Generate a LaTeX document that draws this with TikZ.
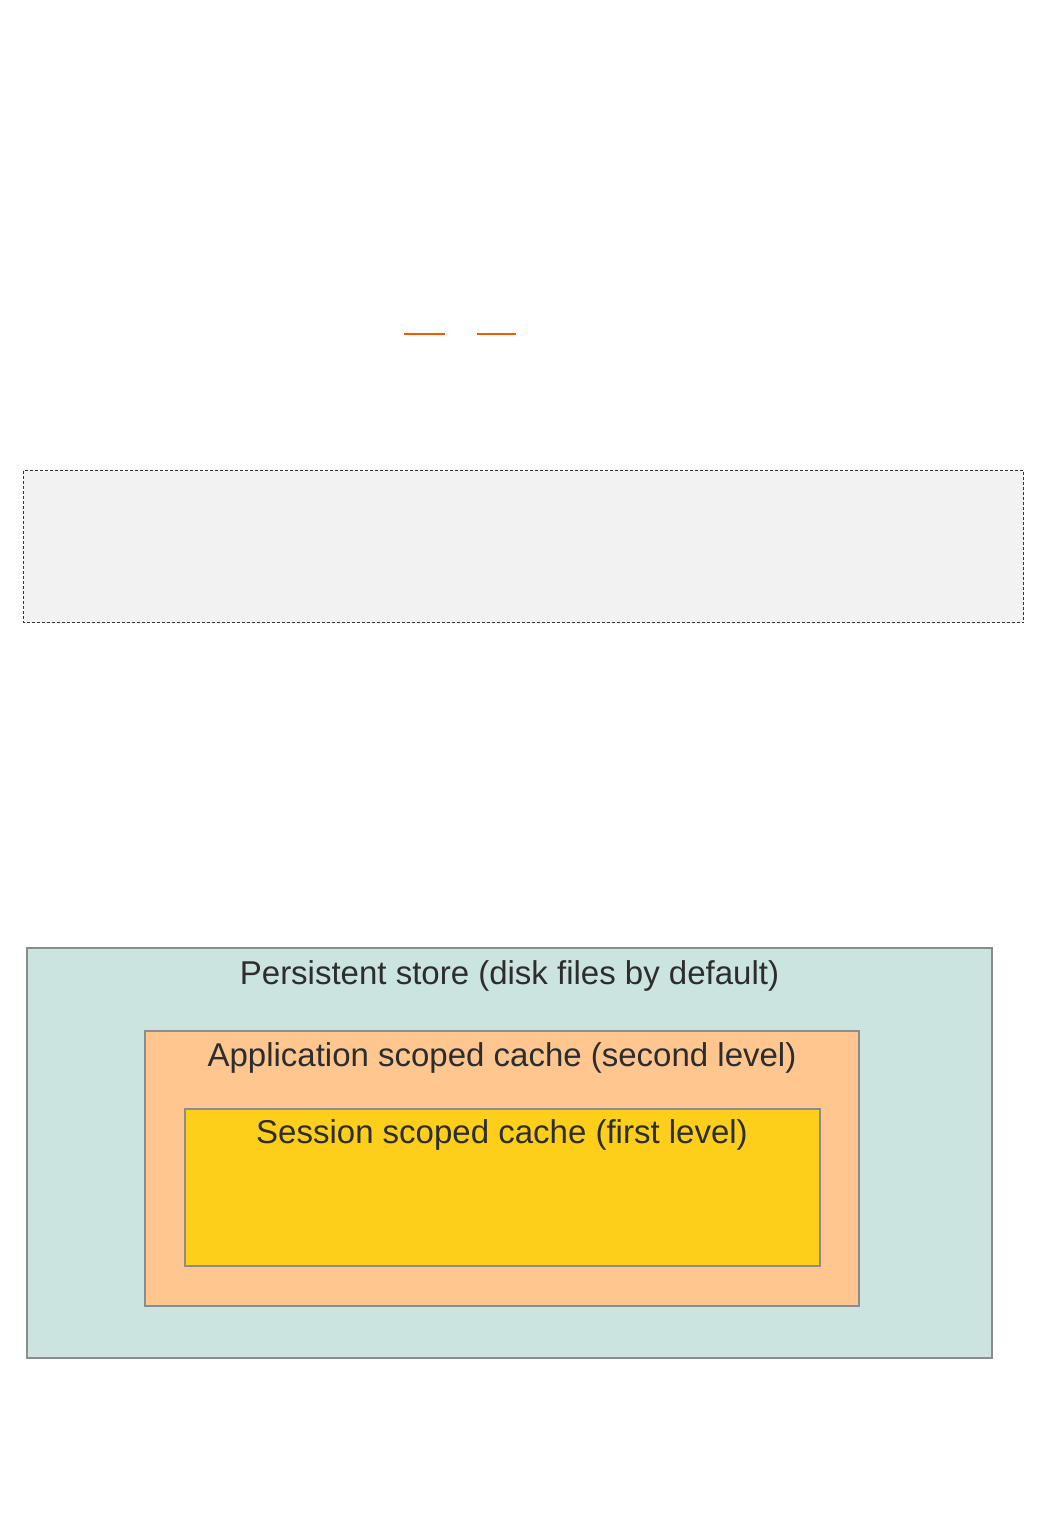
\documentclass[tikz,border=0pt]{standalone}
\usepackage{fontspec}
\setmainfont{Liberation Sans}
\definecolor{persist}{RGB}{204,228,224}
\definecolor{appc}{RGB}{255,198,144}
\definecolor{sessc}{RGB}{253,207,26}
\definecolor{edgegray}{RGB}{140,140,140}
\definecolor{txtgray}{RGB}{45,45,45}
\definecolor{dashfill}{RGB}{242,242,242}
\definecolor{orangeline}{RGB}{240,90,0}
\tikzset{
  x=1pt,y=-1pt,
  layerbox/.style={draw=edgegray,line width=2pt},
  layerlabel/.style={text=txtgray,font=\fontsize{33}{38}\selectfont,inner sep=0pt,anchor=base},
  dashbox/.style={draw=black!80,fill=dashfill,line width=1pt,dash pattern=on 3pt off 2pt},
  oline/.style={draw=orangeline,line width=1.6pt}
}
\begin{document}
\begin{tikzpicture}
\useasboundingbox (0,0) rectangle (1047,1540);
% orange marks
\coordinate (o1a) at (404,334);
\coordinate (o1b) at (445,334);
\coordinate (o2a) at (477,334);
\coordinate (o2b) at (516,334);
\draw[oline] (o1a) -- (o1b);
\draw[oline] (o2a) -- (o2b);
% dashed box
\draw[dashbox] (23.5,470.5) rectangle (1023.5,622.5);
% nested boxes
\draw[layerbox,fill=persist] (26.5,948) rectangle (991.5,1357.5);
\draw[layerbox,fill=appc] (145,1030.5) rectangle (859,1305.5);
\draw[layerbox,fill=sessc] (184.5,1108.5) rectangle (819.5,1265.5);
\node[layerlabel] (pl) at (509.5,984.5) {Persistent store (disk files by default)};
\node[layerlabel] (al) at (502,1066) {Application scoped cache (second level)};
\node[layerlabel] (sl) at (502,1143) {Session scoped cache (first level)};
\end{tikzpicture}
\end{document}
